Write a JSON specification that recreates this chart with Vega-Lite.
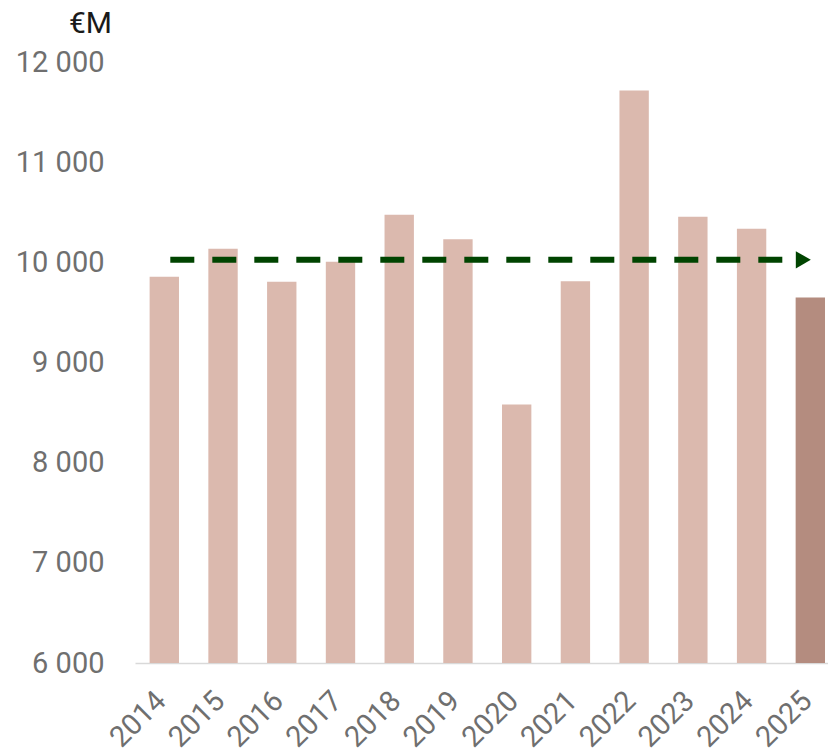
{
  "$schema": "https://vega.github.io/schema/vega-lite/v6.json",
  "autosize": "none",
  "width": 693,
  "height": 601,
  "padding": {"left": 135, "top": 62, "right": 0, "bottom": 92},
  "background": "white",
  "config": {"view": {"stroke": null}, "font": "Roboto"},
  "layer": [
    {
      "data": {"values": [
        {"year": "2014", "value": 9855, "kind": "past"},
        {"year": "2015", "value": 10135, "kind": "past"},
        {"year": "2016", "value": 9805, "kind": "past"},
        {"year": "2017", "value": 10005, "kind": "past"},
        {"year": "2018", "value": 10475, "kind": "past"},
        {"year": "2019", "value": 10230, "kind": "past"},
        {"year": "2020", "value": 8580, "kind": "past"},
        {"year": "2021", "value": 9810, "kind": "past"},
        {"year": "2022", "value": 11715, "kind": "past"},
        {"year": "2023", "value": 10455, "kind": "past"},
        {"year": "2024", "value": 10335, "kind": "past"},
        {"year": "2025", "value": 9650, "kind": "current"}
      ]},
      "mark": {"type": "bar"},
      "encoding": {
        "x": {
          "field": "year", "type": "nominal",
          "scale": {"type": "band", "paddingInner": 0.5, "paddingOuter": 0.15, "align": 0.83},
          "axis": {
            "title": null, "labelAngle": -45, "labelFontSize": 29, "labelColor": "#6f6f6f",
            "ticks": false, "domainColor": "#d9d9d9", "domainWidth": 1.5, "labelPadding": 23,
            "labelOffset": -13, "labelFont": "Roboto"
          }
        },
        "y": {
          "field": "value", "type": "quantitative",
          "scale": {"domain": [6000, 12000], "nice": false, "zero": false},
          "axis": {
            "values": [6000, 7000, 8000, 9000, 10000, 11000, 12000],
            "labelExpr": "replace(format(datum.value, ','), ',', ' ')",
            "grid": false, "domain": false, "ticks": false, "labelPadding": 31,
            "labelFontSize": 29, "labelColor": "#6f6f6f", "labelFont": "Roboto",
            "title": "€M", "titleAngle": 0, "titleAlign": "center", "titleBaseline": "alphabetic",
            "titleX": -45, "titleY": -30, "titleFontSize": 30, "titleFontWeight": "normal",
            "titleColor": "#1a1a1a", "titleFont": "Roboto"
          }
        },
        "y2": {"datum": 6000},
        "color": {
          "field": "kind", "type": "nominal",
          "scale": {"domain": ["past", "current"], "range": ["#dbb9ae", "#b48c7f"]},
          "legend": null
        }
      }
    },
    {
      "data": {"values": [{"from": "2014", "to": "2025", "level": 10025}]},
      "mark": {"type": "rule", "color": "#004400", "strokeWidth": 6, "strokeDash": [24, 18], "xOffset": 6, "x2Offset": -15},
      "encoding": {
        "x": {"field": "from", "type": "nominal"},
        "x2": {"field": "to"},
        "y": {"field": "level", "type": "quantitative"}
      }
    },
    {
      "data": {"values": [{"to": "2025", "level": 10025}]},
      "mark": {"type": "point", "shape": "triangle-right", "filled": true, "color": "#004400", "opacity": 1, "size": 300, "xOffset": -7},
      "encoding": {
        "x": {"field": "to", "type": "nominal"},
        "y": {"field": "level", "type": "quantitative"}
      }
    }
  ]
}
